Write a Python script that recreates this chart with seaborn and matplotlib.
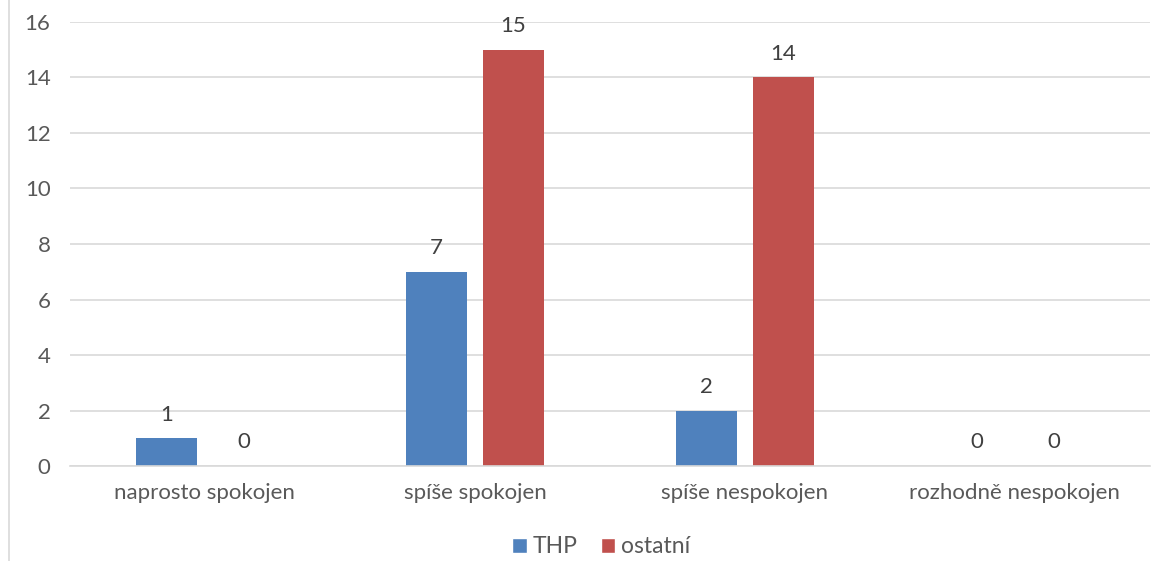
import pandas as pd
import seaborn as sns
import matplotlib.pyplot as plt
from matplotlib.patches import Patch
from matplotlib.lines import Line2D

# Data
categories = ["naprosto spokojen", "spíše spokojen", "spíše nespokojen", "rozhodně nespokojen"]
thp = [1, 7, 2, 0]
ostatni = [0, 15, 14, 0]
series_names = ["THP", "ostatní"]
colors = ["#4F81BD", "#C0504D"]

df = pd.DataFrame({
    "kategorie": categories * 2,
    "pocet": thp + ostatni,
    "skupina": [series_names[0]] * 4 + [series_names[1]] * 4,
})

sns.set_style("white")
plt.rcParams["font.family"] = ["Lato", "DejaVu Sans"]
text_col = "#595959"
fs = 16

fig = plt.figure(figsize=(11.65, 5.61), dpi=100)
ax = fig.add_axes([0.060, 0.169, 0.927, 0.792])

sns.barplot(data=df, x="kategorie", y="pocet", hue="skupina", order=categories,
            hue_order=series_names, palette=colors, width=0.57, gap=0.2,
            saturation=1, linewidth=0, legend=False, ax=ax)

for cont in ax.containers:
    ax.bar_label(cont, labels=[f"{int(b.get_height())}" for b in cont],
                 padding=10, fontsize=fs, color="#404040")

ax.set_ylim(0, 16)
ax.set_xlim(-0.5, 3.5)
ax.set_yticks(range(0, 17, 2))
ax.yaxis.grid(True, color="#D9D9D9", linewidth=1.2)
ax.set_axisbelow(True)
for s in ["top", "right", "left"]:
    ax.spines[s].set_visible(False)
ax.spines["bottom"].set_color("#D9D9D9")
ax.spines["bottom"].set_linewidth(1.2)
ax.tick_params(axis="both", length=0, labelsize=fs, colors=text_col)
ax.tick_params(axis="x", pad=12)
ax.tick_params(axis="y", pad=14)
ax.set_xlabel("")
ax.set_ylabel("")

handles = [Patch(facecolor=c, label=n) for c, n in zip(colors, series_names)]
fig.legend(handles=handles, loc="lower center", bbox_to_anchor=(0.516, -0.03), ncol=2,
           frameon=False, fontsize=16.5, handlelength=0.65, handleheight=0.65,
           handletextpad=0.25, columnspacing=1.0, labelcolor=text_col)

# thin chart border visible on the left edge
fig.add_artist(Line2D([0.0073, 0.0073], [0, 1], color="#D9D9D9", linewidth=1.2))

fig.savefig("out.png", dpi=100)
